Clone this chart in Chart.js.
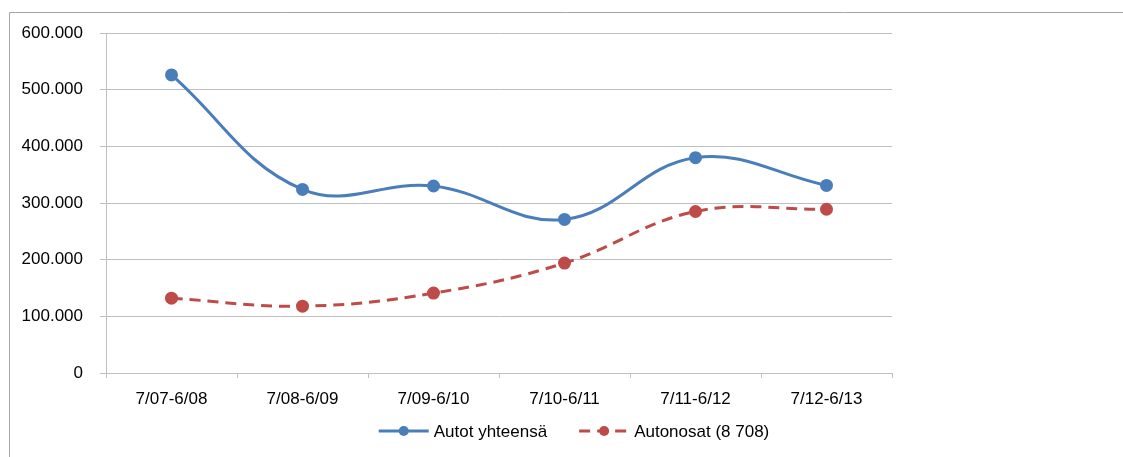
<!DOCTYPE html>
<html>
<head>
<meta charset="utf-8">
<script src="https://cdn.jsdelivr.net/npm/chart.js@4"></script>
<style>
  html, body { margin: 0; padding: 0; background: #fff; }
  #wrap { width: 1123px; height: 457px; position: relative; }
</style>
</head>
<body>
<div id="wrap"><canvas id="chart" width="1123" height="457"></canvas></div>
<script>
const periods = ["7/07-6/08", "7/08-6/09", "7/09-6/10", "7/10-6/11", "7/11-6/12", "7/12-6/13"];
const autotYhteensa = [526000, 324000, 330000, 271000, 380000, 331000];
const autonosat = [132000, 118000, 141000, 194000, 285000, 289000];
const yTicks = [0, 100000, 200000, 300000, 400000, 500000, 600000];

const FONT = "'Liberation Sans', Arial, sans-serif";
const gridColor = "#BFBFBF";

function formatThousands(v) {
  return String(v).replace(/\B(?=(\d{3})+(?!\d))/g, ".");
}

// outer frame of the original chart (only top + left edges are visible)
const framePlugin = {
  id: "frame",
  beforeDraw(chart) {
    const ctx = chart.ctx;
    ctx.save();
    ctx.strokeStyle = "#A6A6A6";
    ctx.lineWidth = 1;
    ctx.beginPath();
    ctx.moveTo(9.5, 457);
    ctx.lineTo(9.5, 12.5);
    ctx.lineTo(1123, 12.5);
    ctx.stroke();
    ctx.restore();
  },
};

// Excel style legend: line segment with marker, then label
const legendPlugin = {
  id: "excelLegend",
  afterDraw(chart) {
    const ctx = chart.ctx;
    const y = 431;
    const symW = 50;
    const gap = 5;
    const itemGap = 32;
    ctx.save();
    ctx.font = "17px " + FONT;
    ctx.textBaseline = "middle";
    const items = chart.data.datasets.map((ds) => ({
      ds,
      w: symW + gap + ctx.measureText(ds.label).width,
    }));
    const total = items.reduce((s, it) => s + it.w, 0) + itemGap * (items.length - 1);
    let x = 574 - total / 2;
    items.forEach((it) => {
      const ds = it.ds;
      ctx.strokeStyle = ds.borderColor;
      ctx.lineWidth = ds.borderWidth;
      ctx.setLineDash(ds.borderDash || []);
      ctx.beginPath();
      ctx.moveTo(x, y);
      ctx.lineTo(x + symW, y);
      ctx.stroke();
      ctx.setLineDash([]);
      ctx.fillStyle = ds.pointBackgroundColor;
      ctx.beginPath();
      ctx.arc(x + symW / 2, y, ds.pointRadius, 0, Math.PI * 2);
      ctx.fill();
      ctx.fillStyle = "#000";
      ctx.fillText(ds.label, x + symW + gap, y + 1);
      x += it.w + itemGap;
    });
    ctx.restore();
  },
};

const data = {
  labels: periods,
  datasets: [
    {
      label: "Autot yhteensä",
      data: autotYhteensa,
      borderColor: "#4A7EBB",
      backgroundColor: "#4A7EBB",
      pointBackgroundColor: "#4A7EBB",
      pointBorderColor: "#4A7EBB",
      pointRadius: 5,
      borderWidth: 3,
      tension: 0.4,
      fill: false,
    },
    {
      label: "Autonosat (8 708)",
      data: autonosat,
      borderColor: "#BE4B48",
      backgroundColor: "#BE4B48",
      pointBackgroundColor: "#BE4B48",
      pointBorderColor: "#BE4B48",
      pointRadius: 5,
      borderWidth: 3,
      borderDash: [11, 7],
      tension: 0.4,
      fill: false,
    },
  ],
};

new Chart(document.getElementById("chart").getContext("2d"), {
  type: "line",
  data: data,
  plugins: [framePlugin, legendPlugin],
  options: {
    responsive: false,
    animation: false,
    layout: { padding: { top: 33, right: 231, bottom: 0, left: 0 } },
    plugins: { legend: { display: false }, tooltip: { enabled: false } },
    scales: {
      x: {
        offset: true,
        grid: {
          offset: true,
          drawOnChartArea: false,
          drawTicks: true,
          tickLength: 5,
          color: gridColor,
        },
        border: { color: gridColor },
        ticks: { color: "#000", font: { family: FONT, size: 17 }, padding: 11, maxRotation: 0 },
        afterFit(scale) { scale.height = 84; },
      },
      y: {
        min: 0,
        max: 600000,
        afterBuildTicks(scale) { scale.ticks = yTicks.map((v) => ({ value: v })); },
        grid: { color: gridColor, tickLength: 6 },
        border: { color: gridColor },
        ticks: {
          color: "#000",
          font: { family: FONT, size: 17 },
          padding: 17,
          callback: (v) => formatThousands(v),
        },
        afterFit(scale) { scale.width = 106; },
      },
    },
  },
});
</script>
</body>
</html>
